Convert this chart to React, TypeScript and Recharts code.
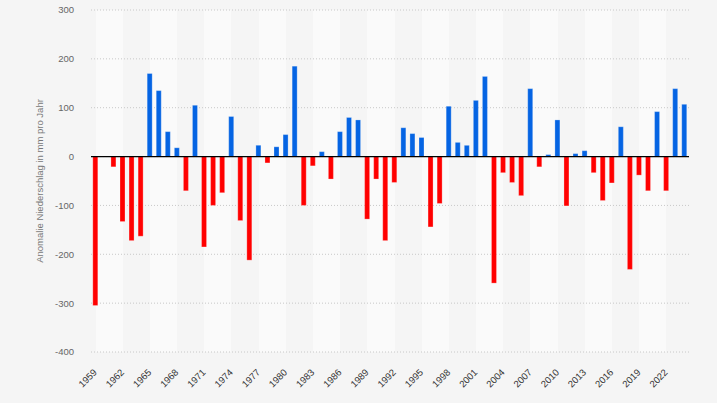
import { BarChart, Bar, XAxis, YAxis, CartesianGrid, ReferenceLine, Cell } from "recharts";

const years = [
  1959, 1960, 1961, 1962, 1963, 1964, 1965, 1966, 1967, 1968, 1969,
  1970, 1971, 1972, 1973, 1974, 1975, 1976, 1977, 1978, 1979,
  1980, 1981, 1982, 1983, 1984, 1985, 1986, 1987, 1988, 1989,
  1990, 1991, 1992, 1993, 1994, 1995, 1996, 1997, 1998, 1999,
  2000, 2001, 2002, 2003, 2004, 2005, 2006, 2007, 2008, 2009,
  2010, 2011, 2012, 2013, 2014, 2015, 2016, 2017, 2018, 2019,
  2020, 2021, 2022, 2023, 2024,
];

// Anomalie in mm pro Jahr
const anomaly = [
  -305, 0, -21, -133, -172, -163, 170, 135, 51, 18, -70,
  105, -185, -100, -74, 82, -131, -212, 23, -13, 20,
  45, 185, -100, -19, 10, -46, 51, 80, 75, -128,
  -46, -172, -53, 59, 47, 39, -144, -96, 103, 29,
  23, 115, 164, -259, -33, -53, -80, 139, -21, 4,
  75, -101, 6, 12, -33, -90, -54, 61, -231, -38,
  -70, 92, -70, 139, 107,
];

const yTicks = [-400, -300, -200, -100, 0, 100, 200, 300];

const data = years.map((y, i) => ({ year: String(y), value: anomaly[i] }));

const FONT = "'Liberation Sans', Arial, sans-serif";

const XTick = (props: any) => {
  const { x, y, payload } = props;
  return (
    <g transform={`translate(${x + 2},${y + 19})`}>
      <text
        x={0}
        y={0}
        transform="rotate(-45)"
        textAnchor="end"
        fontSize={9.5}
        fontFamily={FONT}
        fill="#333"
      >
        {payload.value}
      </text>
    </g>
  );
};

export default function App() {
  return (
    <div style={{ position: "absolute", left: 0, top: 0, width: 717, height: 403, background: "#f5f5f5" }}>
      <BarChart
        width={717}
        height={403}
        data={data}
        margin={{ top: 10, right: 28, bottom: 21, left: 30 }}
        barCategoryGap="20%"
      >
        <CartesianGrid
          horizontal={false}
          stroke="transparent"
          verticalFill={["#f5f5f5", "#fafafa"]}
        />
        <CartesianGrid vertical={false} stroke="#c8c8c8" strokeDasharray="1 2" />
        <XAxis
          dataKey="year"
          height={30}
          interval={2}
          tickLine={false}
          axisLine={false}
          tickSize={0}
          tick={<XTick />}
        />
        <YAxis
          width={61}
          domain={[-400, 300]}
          ticks={yTicks}
          tickLine={false}
          axisLine={false}
          tickSize={0}
          tickMargin={17}
          tick={{ fill: "#666", fontSize: 9.5, fontFamily: FONT }}
          label={{
            value: "Anomalie Niederschlag in mm pro Jahr",
            angle: -90,
            position: "insideLeft",
            offset: 10,
            style: { textAnchor: "middle", fill: "#777", fontSize: 9.5, fontFamily: FONT },
          }}
        />
        <ReferenceLine y={0} stroke="#000" strokeWidth={1.2} />
        <Bar dataKey="value" isAnimationActive={false} stroke="#ffffff" strokeOpacity={0.25} strokeWidth={1}>
          {data.map((d, i) => (
            <Cell key={i} fill={d.value >= 0 ? "#0564e3" : "#ff0000"} />
          ))}
        </Bar>
      </BarChart>
    </div>
  );
}
